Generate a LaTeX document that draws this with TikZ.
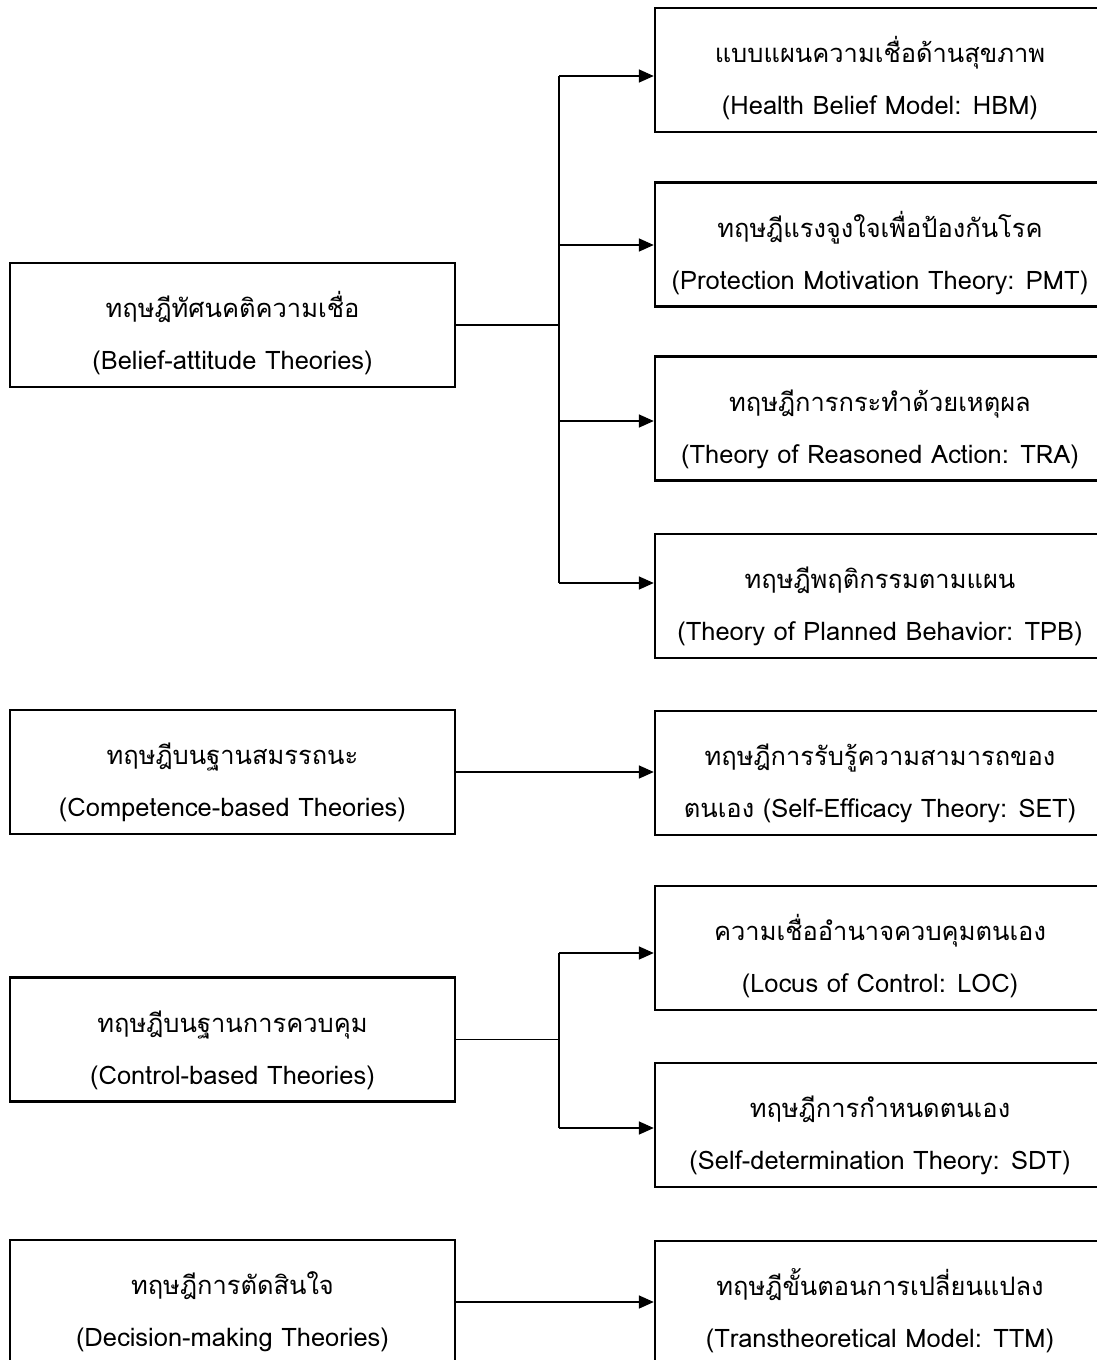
\documentclass[tikz,border=0pt]{standalone}
\usepackage{fontspec}
\newfontfamily\thaifont[Script=Thai]{Loma}
\usetikzlibrary{arrows.meta}

\begin{document}
\begin{tikzpicture}[x=0.02cm, y=-0.02cm, >={Triangle[length=8.5pt, width=7.5pt]}]
\tikzset{
  theory/.style={draw, rectangle, line width=1.5pt, minimum height=2.48cm, align=center,
    text height=51pt, text depth=0pt,
    font=\thaifont\fontsize{14.5pt}{29.5pt}\selectfont},
  groupbox/.style={theory, minimum width=8.9cm},
  modelbox/.style={theory, minimum width=9cm},
  link/.style={line width=0.6pt}
}
\useasboundingbox (0,0) rectangle (1097,1360);

\node[groupbox] (belief) at (232.5,325) {ทฤษฎีทัศนคติความเชื่อ\\(Belief-attitude Theories)};
\node[groupbox] (compet) at (232.5,772) {ทฤษฎีบนฐานสมรรถนะ\\(Competence-based Theories)};
\node[groupbox] (control) at (232.5,1039.5) {ทฤษฎีบนฐานการควบคุม\\(Control-based Theories)};
\node[groupbox] (decision) at (232.5,1302) {ทฤษฎีการตัดสินใจ\\(Decision-making Theories)};

\node[modelbox] (hbm) at (880,70) {แบบแผนความเชื่อด้านสุขภาพ\\(Health Belief Model: HBM)};
\node[modelbox] (pmt) at (880,244.5) {ทฤษฎีแรงจูงใจเพื่อป้องกันโรค\\(Protection Motivation Theory: PMT)};
\node[modelbox] (tra) at (880,418.5) {ทฤษฎีการกระทำด้วยเหตุผล\\(Theory of Reasoned Action: TRA)};
\node[modelbox] (tpb) at (880,596) {ทฤษฎีพฤติกรรมตามแผน\\(Theory of Planned Behavior: TPB)};
\node[modelbox] (set) at (880,773) {ทฤษฎีการรับรู้ความสามารถของ\\ตนเอง (Self-Efficacy Theory: SET)};
\node[modelbox] (loc) at (880,948) {ความเชื่ออำนาจควบคุมตนเอง\\(Locus of Control: LOC)};
\node[modelbox] (sdt) at (880,1125) {ทฤษฎีการกำหนดตนเอง\\(Self-determination Theory: SDT)};
\node[modelbox] (ttm) at (880,1303) {ทฤษฎีขั้นตอนการเปลี่ยนแปลง\\(Transtheoretical Model: TTM)};

\coordinate (b1) at (559,76);
\coordinate (b2) at (559,245);
\coordinate (b3) at (559,421);
\coordinate (b4) at (559,583);
\coordinate (c1) at (559,953);
\coordinate (c2) at (559,1128);

\draw[link] (belief.east) -- (belief.east -| b1);
\draw[link] (b1) -- (b4);
\draw[link, ->] (b1) -- (b1 -| hbm.west);
\draw[link, ->] (b2) -- (b2 -| pmt.west);
\draw[link, ->] (b3) -- (b3 -| tra.west);
\draw[link, ->] (b4) -- (b4 -| tpb.west);

\draw[link, ->] (compet.east) -- (compet.east -| set.west);

\draw[link] (control.east) -- (control.east -| c1);
\draw[link] (c1) -- (c2);
\draw[link, ->] (c1) -- (c1 -| loc.west);
\draw[link, ->] (c2) -- (c2 -| sdt.west);

\draw[link, ->] (decision.east) -- (decision.east -| ttm.west);
\end{tikzpicture}
\end{document}
